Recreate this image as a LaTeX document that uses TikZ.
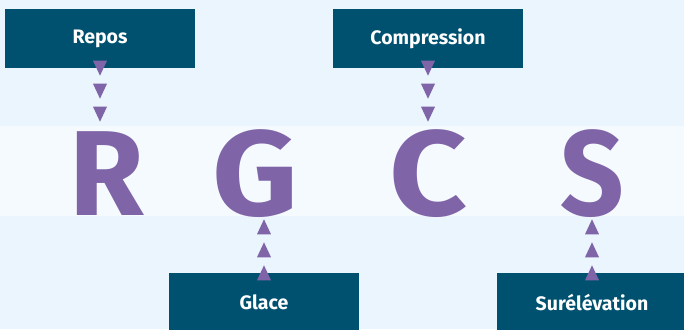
\documentclass[tikz,border=0pt]{standalone}
\usepackage{fontspec}
\setmainfont{Fira Sans}
\usetikzlibrary{decorations.markings}
\definecolor{bg}{RGB}{234,245,253}
\definecolor{band}{RGB}{245,250,254}
\definecolor{boxc}{RGB}{0,81,111}
\definecolor{purp}{RGB}{128,100,168}
\tikzset{
  labelbox/.style={fill=boxc, text=white, font=\bfseries\fontsize{19.5}{22}\selectfont,
    minimum width=190pt, minimum height=59pt, inner sep=0pt},
  bigletter/.style={text=purp, font=\bfseries\fontsize{121}{122}\selectfont, inner sep=0pt, anchor=base},
  widen/.style={xscale=#1, transform shape},
  tripath/.style={decoration={markings,
      mark=at position 0pt with {\fill[purp] (7.5pt,0pt)--(-7.5pt,7pt)--(-7.5pt,-7pt)--cycle;},
      mark=at position 23pt with {\fill[purp] (7.5pt,0pt)--(-7.5pt,7pt)--(-7.5pt,-7pt)--cycle;},
      mark=at position 46pt with {\fill[purp] (7.5pt,0pt)--(-7.5pt,7pt)--(-7.5pt,-7pt)--cycle;}},
    postaction={decorate}}
}
\begin{document}
\begin{tikzpicture}[x=1pt,y=-1pt]
  \useasboundingbox (0,0) rectangle (684,329);
  \clip (0,0) rectangle (684,329);
  \fill[bg] (0,0) rectangle (684,329);
  \fill[band] (0,126) rectangle (684,216);
  \node[labelbox] (repos) at (100,38.5) {Repos};
  \node[labelbox] (compression) at (428,38.5) {Compression};
  \node[labelbox] (glace) at (264,302.5) {Glace};
  \node[labelbox] (sur) at (592,302.5) {Surélévation};
  \node[bigletter] (R) at (106.5,215) {R};
  \node[bigletter, widen=1.1] (G) at (255.5,215) {G};
  \node[bigletter, widen=1.12] (C) at (428.5,215) {C};
  \node[bigletter, widen=0.92] (S) at (592.5,215) {S};
  \path[tripath] (repos.south) -- (repos.south |- R.north);
  \path[tripath] (compression.south) -- (compression.south |- C.north);
  \path[tripath] (glace.north) -- (glace.north |- G.south);
  \path[tripath] (sur.north) -- (sur.north |- S.south);
\end{tikzpicture}
\end{document}
